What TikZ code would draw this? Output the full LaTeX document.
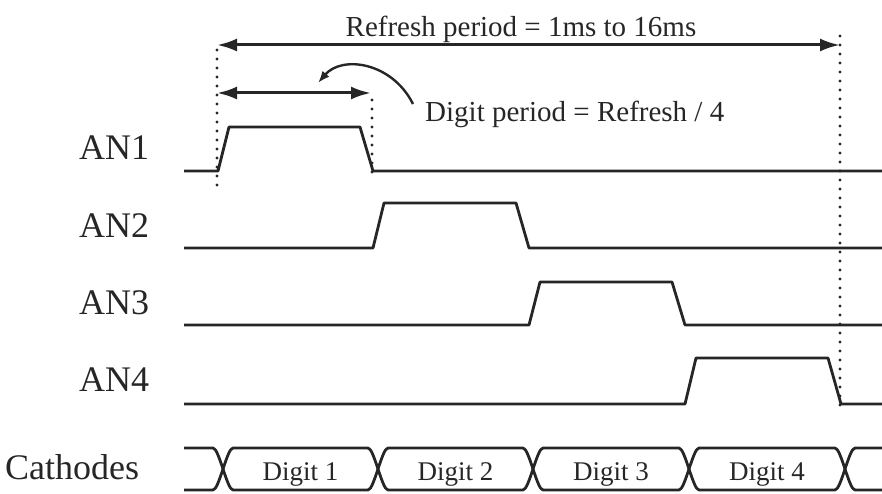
\documentclass[tikz,border=0pt]{standalone}
\usepackage{fontspec}
\setmainfont{Liberation Serif}
\usetikzlibrary{arrows.meta}
\definecolor{ink}{HTML}{262626}
\begin{document}
\begin{tikzpicture}[x=1pt,y=-1pt,
  wave/.style={ink, line width=2.8pt, line join=round},
  dots/.style={ink, line width=3.2pt, line cap=round, dash pattern=on 0pt off 9pt},
  dim/.style={ink, line width=3pt, {Latex[length=20pt,width=13pt]}-{Latex[length=20pt,width=13pt]}},
  curv/.style={ink, line width=2.4pt, -{Latex[length=12pt,width=9pt]}},
  lbl/.style={text=ink, font=\fontsize{36}{36}\selectfont, anchor=base west, inner sep=0pt},
  note/.style={text=ink, font=\fontsize{29}{29}\selectfont, inner sep=0pt},
  dig/.style={text=ink, font=\fontsize{27}{27}\selectfont, anchor=base, inner sep=0pt}]
\useasboundingbox (0,0) rectangle (882,494);

% signal labels
\node[lbl] (an1) at (79,160) {AN1};
\node[lbl] (an2) at (79,237) {AN2};
\node[lbl] (an3) at (79,314) {AN3};
\node[lbl] (an4) at (79,391) {AN4};
\node[lbl] (cath) at (5,479) {Cathodes};

% anode waveforms
\foreach \hi/\lo/\ta/\tb in {127/171/218/373, 203/248/373/529, 282/325/529/685, 358/404/685/841}
  \draw[wave] (184,\lo) -- (\ta,\lo) -- ({\ta+11},\hi) -- ({\tb-13},\hi) -- (\tb,\lo) -- (882,\lo);

% dotted guides
\draw[dots] (217,50) -- (217,186);
\draw[dots] (372,100) -- (372,175);
\draw[dots] (840,36) -- (840,412);

% refresh period arrow
\coordinate (rL) at (217,45);
\coordinate (rR) at (840,45);
\draw[dim] (rL) -- (rR);
\node[note, anchor=base] (rtext) at (521,37) {Refresh period = 1ms to 16ms};

% digit period arrow
\coordinate (dL) at (217,93);
\coordinate (dR) at (371,93);
\draw[dim] (dL) -- (dR);
\node[note, anchor=base west] (dtext) at (425,122) {Digit period = Refresh / 4};
\coordinate (cs) at (413,104);
\coordinate (ce) at (318,83);
\draw[curv] (cs) .. controls (392,62) and (342,55) .. (ce);

% cathode bus
\draw[wave] (184,448) -- (213,448) .. controls (216,448) and (219.5,458.5) .. (223,469)
  .. controls (219.5,479.5) and (216,490) .. (213,490) -- (184,490);
\draw[wave] (882,448) -- (855,448) .. controls (852,448) and (848.5,458.5) .. (845,469)
  .. controls (848.5,479.5) and (852,490) .. (855,490) -- (882,490);
\foreach \a/\b/\n in {223/378/1, 378/533/2, 533/689/3, 689/845/4}{
  \draw[wave] (\a,469) .. controls ({\a+3.5},458.5) and ({\a+7},448) .. ({\a+10},448)
    -- ({\b-10},448) .. controls ({\b-7},448) and ({\b-3.5},458.5) .. (\b,469)
    .. controls ({\b-3.5},479.5) and ({\b-7},490) .. ({\b-10},490)
    -- ({\a+10},490) .. controls ({\a+7},490) and ({\a+3.5},479.5) .. cycle;
  \node[dig] (digit\n) at ({(\a+\b)/2},480) {Digit \n};
}
\end{tikzpicture}
\end{document}
